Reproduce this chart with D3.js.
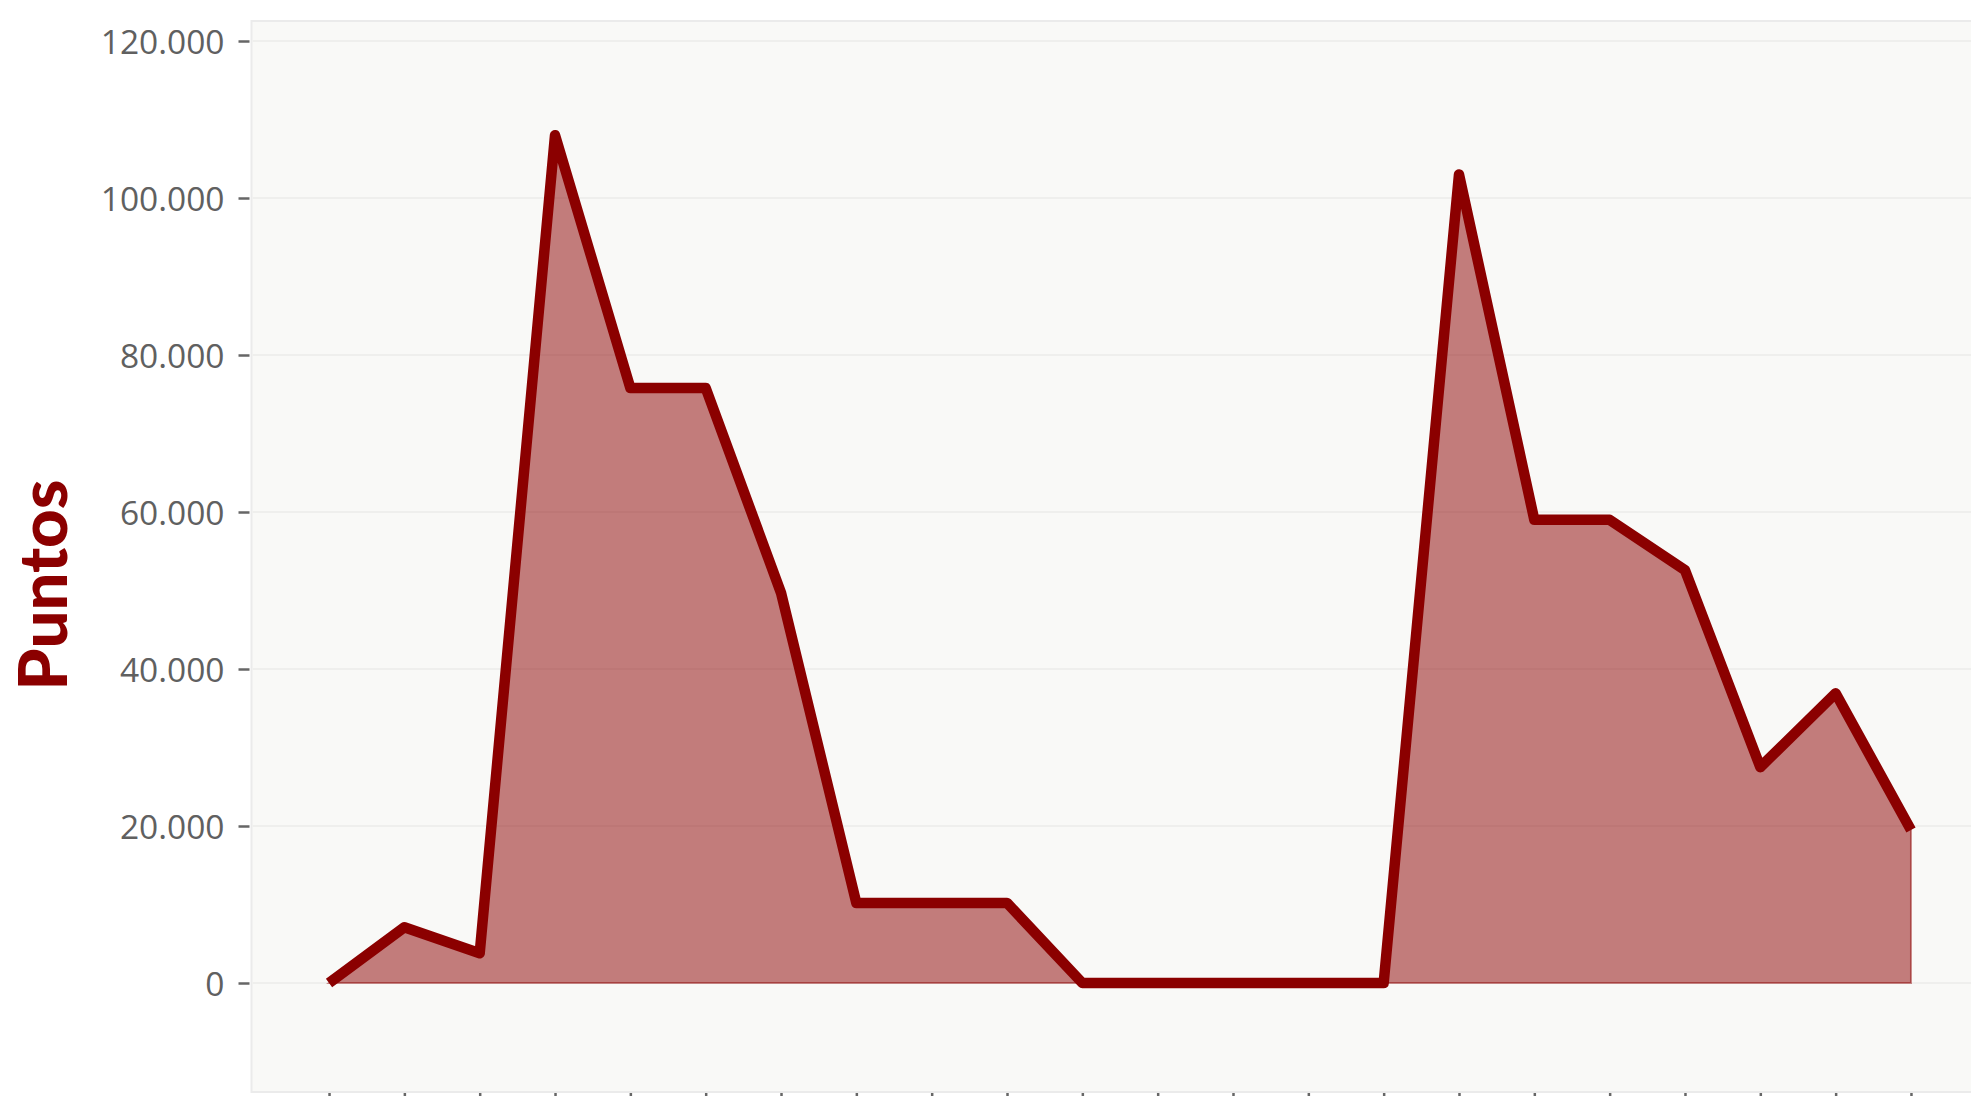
<!DOCTYPE html>
<html>
<head>
<meta charset="utf-8">
<script src="https://cdn.jsdelivr.net/npm/d3@7"></script>
<style>
  html, body { margin: 0; padding: 0; background: #ffffff; overflow: hidden; }
  svg { display: block; }
</style>
</head>
<body>
<svg id="chart" width="1971" height="1096"></svg>
<script>
// ---- data ----
const periodos = [1, 2, 3, 4, 5, 6, 7, 8, 9, 10, 11, 12, 13, 14, 15, 16, 17, 18, 19, 20, 21, 22];
const puntos = [0, 7100, 3800, 108000, 75800, 75800, 49700, 10200, 10200, 10200, 0, 0, 0, 0, 0,
                103000, 59000, 59000, 52600, 27500, 36900, 19500];
const yTicks = [0, 20000, 40000, 60000, 80000, 100000, 120000];
const yTitle = "Puntos";

// ---- layout ----
const svg = d3.select("#chart");
const x = d3.scaleLinear().domain([0, periodos.length + 1]).range([253.7, 1986.3]);
const y = d3.scaleLinear().domain([0, 120000]).range([983, 41]);
const panelTop = 21, panelBottom = 1092, panelLeft = 251.5;

const fmt = v => d3.format(",")(v).replace(/,/g, ".");

// panel
svg.append("rect")
  .attr("x", panelLeft).attr("y", panelTop)
  .attr("width", x(periodos.length + 1) - panelLeft).attr("height", panelBottom - panelTop)
  .attr("fill", "#f9f9f7").attr("stroke", "#ebebeb").attr("stroke-width", 2);

// grid
svg.append("g").selectAll("line").data(yTicks).join("line")
  .attr("x1", panelLeft + 1).attr("x2", x(periodos.length + 1))
  .attr("y1", d => y(d)).attr("y2", d => y(d))
  .attr("stroke", "#efefed").attr("stroke-width", 2);

// y axis
const yAxis = d3.axisLeft(y).tickValues(yTicks).tickFormat(fmt).tickSize(11).tickPadding(14);
const gy = svg.append("g").attr("transform", `translate(${panelLeft - 2},0)`).call(yAxis);
gy.select(".domain").remove();
gy.selectAll(".tick line").attr("stroke", "#666").attr("stroke-width", 2.5);
gy.selectAll(".tick text")
  .attr("fill", "#606060")
  .attr("font-family", "'Open Sans', sans-serif")
  .attr("font-size", 33.5)
  .attr("dy", "0.36em");

// x axis (labels cut off below the view)
const xAxis = d3.axisBottom(x).tickValues(periodos).tickFormat(() => "").tickSize(11);
const gx = svg.append("g").attr("transform", `translate(0,${panelBottom + 1})`).call(xAxis);
gx.select(".domain").remove();
gx.selectAll(".tick line").attr("stroke", "#666").attr("stroke-width", 2.5);

// area
const data = periodos.map((p, i) => ({ p, v: puntos[i] }));
const area = d3.area().x(d => x(d.p)).y0(y(0)).y1(d => y(d.v));
svg.append("path").datum(data)
  .attr("d", area)
  .attr("fill", "rgba(139,0,0,0.5)")
  .attr("stroke", "rgba(139,0,0,0.45)")
  .attr("stroke-width", 2);

// line
const line = d3.line().x(d => x(d.p)).y(d => y(d.v));
svg.append("path").datum(data)
  .attr("d", line)
  .attr("fill", "none")
  .attr("stroke", "#8b0000")
  .attr("stroke-width", 10.5)
  .attr("stroke-linejoin", "round")
  .attr("stroke-linecap", "butt");

// y title
svg.append("text")
  .attr("transform", "translate(67,585) rotate(-90)")
  .attr("text-anchor", "middle")
  .attr("font-family", "Lato, 'Open Sans', sans-serif")
  .attr("font-weight", 900)
  .attr("font-size", 67)
  .attr("fill", "#8b0000")
  .text(yTitle);
</script>
</body>
</html>
